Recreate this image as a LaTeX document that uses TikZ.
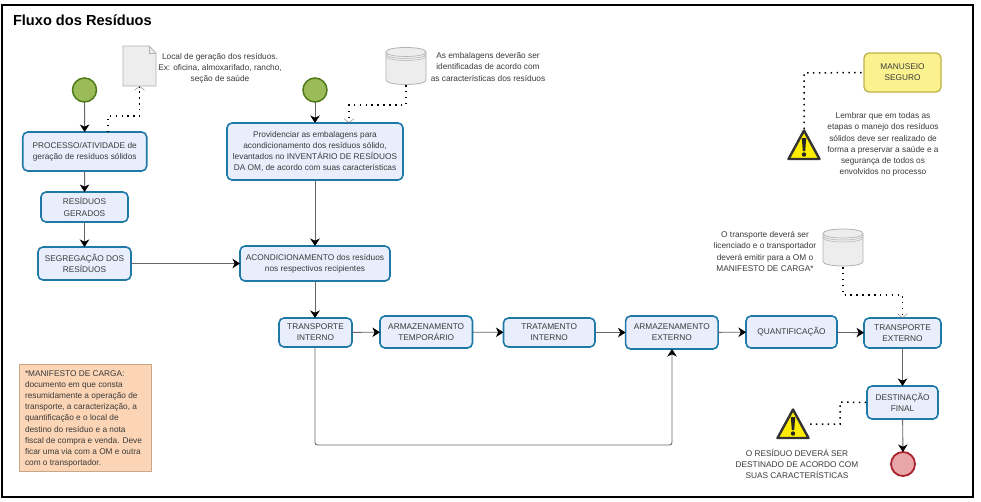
\documentclass[tikz,border=0pt]{standalone}
\usepackage{fontspec}
\setmainfont{Liberation Sans}
\usetikzlibrary{arrows.meta,calc}
\definecolor{boxfill}{HTML}{E8EEFC}
\definecolor{boxline}{HTML}{1F79A7}
\definecolor{txt}{HTML}{3A3A3A}
\definecolor{flow}{HTML}{666666}
\definecolor{startgreen}{HTML}{9BBB59}
\definecolor{startline}{HTML}{4F7A1A}
\definecolor{endred}{HTML}{A8232B}
\definecolor{endpink}{HTML}{E8A6A9}
\definecolor{notefill}{HTML}{FBD5B5}
\definecolor{noteline}{HTML}{C8A888}
\definecolor{manfill}{HTML}{FBF28F}
\definecolor{manline}{HTML}{BDB24A}
\tikzset{
  x=1pt,y=-1pt,
  every node/.style={inner sep=0pt,outer sep=0pt,text=txt,font=\fontsize{8.3}{11.2}\selectfont,align=center},
  taskbox/.style={draw=boxline,fill=boxfill,line width=1.6pt,rounded corners=5pt},
  startev/.style={circle,draw=startline,fill=startgreen,line width=1.5pt,minimum size=24pt},
  endev/.style={circle,draw=endred,fill=endpink,line width=1.8pt,minimum size=24pt},
  flowline/.style={draw=flow,line width=.9pt,-{Stealth[length=7.5pt,width=9.5pt,inset=2.2pt,black]}},
  assoc/.style={draw=black,line width=1.5pt,dash pattern=on 1.5pt off 4.4pt},
  assocopen/.style={assoc,-{Straight Barb[length=4pt,width=10pt,black!45,line width=.5pt]}},
  iconslot/.style={draw=none,rectangle}
}
\newcommand{\cylshape}[2]{%
  \begin{scope}[shift={(#1,#2)}]
    \draw[draw=black!30,fill=black!7,line width=.8pt] (-20,-14) -- (-20,14) .. controls (-20,20) and (20,20) .. (20,14) -- (20,-14) .. controls (20,-20) and (-20,-20) .. (-20,-14) -- cycle;
    \draw[draw=black!30,line width=.6pt] (-20,-14) .. controls (-20,-8) and (20,-8) .. (20,-14);
    \draw[draw=black!30,line width=.5pt] (-20,-12) .. controls (-20,-6) and (20,-6) .. (20,-12);
    \draw[draw=black!30,line width=.5pt] (-20,-10) .. controls (-20,-4) and (20,-4) .. (20,-10);
  \end{scope}}
\newcommand{\warnshape}[2]{%
  \begin{scope}[shift={(#1,#2)}]
    \draw[draw=black!80,fill=yellow!95!orange,line width=2.4pt,line join=round] (0,-14.5) -- (15.5,14) -- (-15.5,14) -- cycle;
    \fill[black!85] (-2.2,-7) -- (2.2,-7) -- (1.2,6) -- (-1.2,6) -- cycle;
    \fill[black!85] (0,9.5) circle (2.2);
  \end{scope}}
\begin{document}
\begin{tikzpicture}
\useasboundingbox (0,0) rectangle (981,501);
\fill[white] (0,0) rectangle (981,501);
\draw[black,line width=2.2pt] (2,5) rectangle (973,497);
\node[font=\bfseries\fontsize{14.6}{16}\selectfont,text=black,anchor=west] (title) at (13,20) {Fluxo dos Resíduos};

% events
\node[startev] (s1) at (84.5,90) {};
\node[startev] (s2) at (315,90) {};
\node[endev] (e1) at (903,464) {};

% tasks
\node[taskbox,minimum width=124pt,minimum height=39pt] (proc) at (84.7,151.5) {PROCESSO/ATIVIDADE de\\geração de resíduos sólidos};
\node[taskbox,minimum width=87pt,minimum height=30pt] (ger) at (84.5,207) {RESÍDUOS\\GERADOS};
\node[taskbox,minimum width=93pt,minimum height=33pt] (seg) at (84.5,263.5) {SEGREGAÇÃO DOS\\RESÍDUOS};
\node[taskbox,minimum width=176pt,minimum height=57pt] (prov) at (315,151.5) {Providenciar as embalagens para\\acondicionamento dos resíduos sólido,\\levantados no  INVENTÁRIO  DE RESÍDUOS\\DA OM, de acordo com suas características};
\node[taskbox,minimum width=150pt,minimum height=35pt] (acond) at (315,263.5) {ACONDICIONAMENTO dos resíduos\\nos respectivos recipientes};
\node[taskbox,minimum width=73pt,minimum height=29pt] (ti) at (315.5,332.5) {TRANSPORTE\\INTERNO};
\node[taskbox,minimum width=92.5pt,minimum height=32pt] (at) at (426.2,332) {ARMAZENAMENTO\\TEMPORÁRIO};
\node[taskbox,minimum width=91.5pt,minimum height=29pt] (tr) at (549.2,332.5) {TRATAMENTO\\INTERNO};
\node[taskbox,minimum width=92.5pt,minimum height=33pt] (ae) at (671.8,332.5) {ARMAZENAMENTO\\EXTERNO};
\node[taskbox,minimum width=91pt,minimum height=32pt] (qt) at (791.5,332) {QUANTIFICAÇÃO};
\node[taskbox,minimum width=77pt,minimum height=30pt] (te) at (902.5,333) {TRANSPORTE\\EXTERNO};
\node[taskbox,minimum width=71pt,minimum height=33pt] (df) at (902.5,402.5) {DESTINAÇÃO\\FINAL};

% manuseio
\node[draw=manline,fill=manfill,line width=1.3pt,rounded corners=5pt,minimum width=77pt,minimum height=39pt] (man) at (902.5,72.5) {MANUSEIO\\SEGURO};

% note
\node[draw=noteline,fill=notefill,line width=.8pt,minimum width=132pt,minimum height=107pt] (note) at (85,417.5) {};
\node[anchor=north west,align=left] (notet) at (25,370.3) {*MANIFESTO DE CARGA:\\documento em que consta\\resumidamente a operação de\\transporte, a caracterização, a\\quantificação e o local de\\destino do resíduo e a nota\\fiscal de compra e venda. Deve\\ficar uma via com a OM e outra\\com o transportador.};

% artefacts
\node[iconslot,minimum width=33pt,minimum height=40pt] (doc) at (139.5,66) {};
\draw[draw=black!30,fill=black!7,line width=.8pt] (123,46) -- (149,46) -- (156,53) -- (156,86) -- (123,86) -- cycle;
\draw[draw=black!30,line width=.6pt] (149,46) -- (149,53) -- (156,53);
\node[iconslot,minimum width=40pt,minimum height=38pt] (c1) at (406,66) {};
\cylshape{406}{66}
\node[iconslot,minimum width=40pt,minimum height=39pt] (c2) at (843,247.5) {};
\cylshape{843}{247.5}
\node[iconslot,minimum width=34pt,minimum height=32pt] (w1) at (804,145) {};
\warnshape{804}{145}
\node[iconslot,minimum width=34pt,minimum height=32pt] (w2) at (793,424) {};
\warnshape{793}{424}

% annotations
\node (a1) at (220,68.5) {Local de geração dos resíduos.\\Ex: oficina, almoxarifado, rancho,\\seção de saúde};
\node (a2) at (488,67) {As embalagens deverão ser\\identificadas de acordo com\\as características dos resíduos};
\node (a3) at (883,144.5) {Lembrar que em todas as\\etapas o manejo dos resíduos\\sólidos deve ser realizado de\\forma a preservar a saúde e a\\segurança de todos os\\envolvidos no processo};
\node (a4) at (765,251.5) {O transporte deverá ser\\licenciado e o transportador\\deverá emitir para a OM o\\MANIFESTO DE CARGA*};
\node (a5) at (797,464) {O RESÍDUO DEVERÁ SER\\DESTINADO DE ACORDO COM\\SUAS CARACTERÍSTICAS};

% sequence flows
\draw[flowline] (s1) -- (proc);
\draw[flowline] (proc) -- (ger);
\draw[flowline] (ger) -- (seg);
\draw[flowline] (seg) -- (acond);
\draw[flowline] (s2) -- (prov);
\draw[flowline] (prov) -- (acond);
\draw[flowline] (acond) -- (acond |- ti.north);
\draw[flowline] (ti) -- (at);
\draw[flowline] (at) -- (tr);
\draw[flowline] (tr) -- (ae);
\draw[flowline] (ae) -- (qt);
\draw[flowline] (qt) -- (te);
\draw[flowline] (te) -- (df);
\draw[flowline] (df) -- (e1);
\coordinate (loopa) at (315,445);
\coordinate (loopb) at (672,445);
\draw[flowline,rounded corners=2.5pt] (loopa |- ti.south) -- (loopa) -- (loopb) -- (loopb |- ae.south);

% associations
\coordinate (d1) at (108,116);
\coordinate (d1b) at (139.5,116);
\draw[assocopen] (d1 |- proc.north) -- (d1) -- (d1b) -- (doc.south);
\coordinate (d2) at (406,105);
\coordinate (d2b) at (349,105);
\draw[assocopen] (c1.south) -- (d2) -- (d2b) -- (d2b |- prov.north);
\coordinate (d3) at (843,295);
\coordinate (d3b) at (902.5,295);
\draw[assocopen] (c2.south) -- (d3) -- (d3b) -- (te.north);
\coordinate (d4) at (804,73);
\draw[assoc] (w1.north) -- (d4) -- (man.west);
\coordinate (d5) at (840,424);
\coordinate (d5b) at (840,402);
\draw[assoc] (w2.east) -- (d5) -- (d5b) -- (df.west);
\end{tikzpicture}
\end{document}
